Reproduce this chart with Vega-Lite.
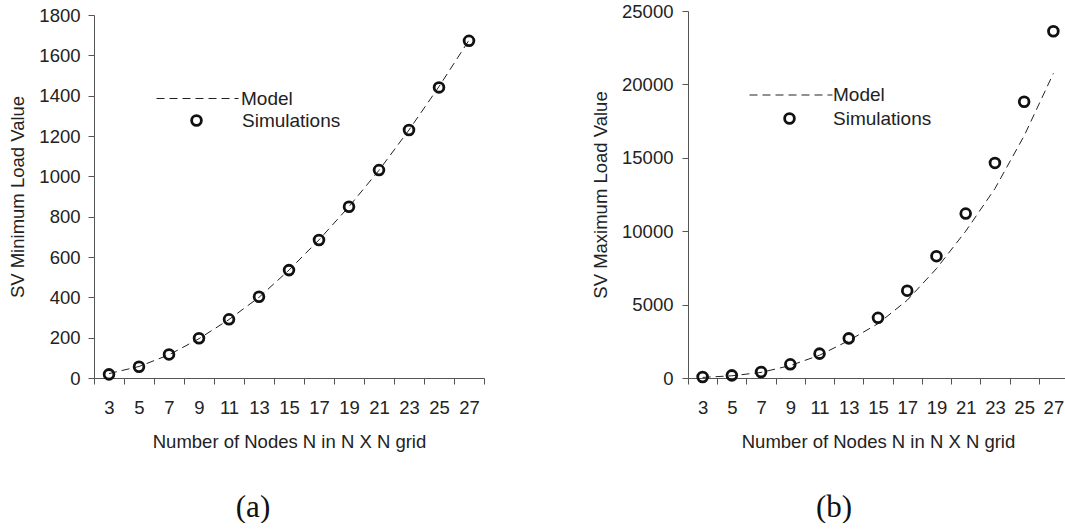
{
  "$schema": "https://vega.github.io/schema/vega-lite/v6.json",
  "background": "white",
  "padding": {"left": 8, "top": 2, "right": 0, "bottom": 0},
  "spacing": 106,
  "config": {
    "font": "Liberation Sans",
    "view": {"stroke": null},
    "axis": {
      "labelFont": "Liberation Sans",
      "labelFontSize": 18.5,
      "labelColor": "#222",
      "titleFont": "Liberation Sans",
      "titleFontSize": 18.5,
      "titleFontWeight": "normal",
      "titleColor": "#222",
      "domainColor": "#555",
      "tickColor": "#555",
      "grid": false,
      "tickSize": 6
    },
    "legend": {
      "labelFont": "Liberation Sans",
      "labelFontSize": 19,
      "labelColor": "#222",
      "padding": 0
    },
    "title": {
      "font": "Liberation Serif",
      "fontSize": 31,
      "fontWeight": "normal",
      "color": "#111"
    }
  },
  "resolve": {
    "scale": {"strokeDash": "independent", "shape": "independent"},
    "legend": {"strokeDash": "independent", "shape": "independent"}
  },
  "datasets": {
    "grid": [
      {"N": 3, "min_sim": 18, "min_model": 22, "max_sim": 70, "max_model": 40},
      {"N": 5, "min_sim": 56, "min_model": 57, "max_sim": 180, "max_model": 150},
      {"N": 7, "min_sim": 117, "min_model": 115, "max_sim": 410, "max_model": 380},
      {"N": 9, "min_sim": 197, "min_model": 195, "max_sim": 930, "max_model": 850},
      {"N": 11, "min_sim": 291, "min_model": 290, "max_sim": 1660, "max_model": 1550},
      {"N": 13, "min_sim": 403, "min_model": 400, "max_sim": 2700, "max_model": 2550},
      {"N": 15, "min_sim": 535, "min_model": 535, "max_sim": 4100, "max_model": 3700},
      {"N": 17, "min_sim": 684, "min_model": 685, "max_sim": 5950, "max_model": 5300},
      {"N": 19, "min_sim": 849, "min_model": 850, "max_sim": 8300, "max_model": 7450},
      {"N": 21, "min_sim": 1031, "min_model": 1030, "max_sim": 11200, "max_model": 10000},
      {"N": 23, "min_sim": 1230, "min_model": 1230, "max_sim": 14650, "max_model": 12900},
      {"N": 25, "min_sim": 1441, "min_model": 1445, "max_sim": 18820, "max_model": 16500},
      {"N": 27, "min_sim": 1672, "min_model": 1675, "max_sim": 23620, "max_model": 20750}
    ]
  },
  "hconcat": [
    {
      "width": 390,
      "height": 367,
      "data": {"name": "grid"},
      "title": {"text": "(a)", "orient": "bottom", "dx": -36, "offset": 42},
      "encoding": {
        "x": {
          "field": "N",
          "type": "ordinal",
          "scale": {"type": "band", "paddingInner": 0, "paddingOuter": 0},
          "axis": {
            "title": "Number of Nodes N in N X N grid",
            "tickBand": "extent",
            "labelAngle": 0,
            "labelPadding": 14,
            "titlePadding": 16
          }
        }
      },
      "layer": [
        {
          "mark": {"type": "line", "color": "#222", "strokeWidth": 1},
          "encoding": {
            "y": {
              "field": "min_model",
              "type": "quantitative",
              "scale": {"domain": [0, 1800], "range": [367, 4], "nice": false, "zero": true},
              "axis": {
                "title": "SV Minimum Load Value",
                "values": [0, 200, 400, 600, 800, 1000, 1200, 1400, 1600, 1800],
                "format": "d",
                "labelPadding": 8,
                "titlePadding": 11
              }
            },
            "strokeDash": {
              "datum": "Model",
              "type": "nominal",
              "scale": {"range": [[8, 5]]},
              "legend": {
                "orient": "none",
                "legendX": 62,
                "legendY": 46,
                "title": null,
                "symbolType": "stroke",
                "symbolSize": 6724,
                "symbolStrokeColor": "#222",
                "symbolStrokeWidth": 1,
                "labelOffset": 2
              }
            }
          }
        },
        {
          "mark": {"type": "point", "filled": false, "size": 95, "strokeWidth": 2.8, "color": "#111", "opacity": 1},
          "encoding": {
            "y": {"field": "min_sim", "type": "quantitative"},
            "shape": {
              "datum": "Simulations",
              "type": "nominal",
              "scale": {"range": ["circle"]},
              "legend": {
                "orient": "none",
                "legendX": 93,
                "legendY": 100,
                "title": null,
                "symbolSize": 95,
                "symbolStrokeWidth": 2.8,
                "symbolStrokeColor": "#111",
                "symbolFillColor": "transparent",
                "labelOffset": 36
              }
            }
          }
        }
      ]
    },
    {
      "width": 380,
      "height": 367,
      "data": {"name": "grid"},
      "title": {"text": "(b)", "orient": "bottom", "dx": -44, "offset": 42},
      "encoding": {
        "x": {
          "field": "N",
          "type": "ordinal",
          "scale": {"type": "band", "paddingInner": 0, "paddingOuter": 0},
          "axis": {
            "title": "Number of Nodes N in N X N grid",
            "tickBand": "extent",
            "labelAngle": 0,
            "labelPadding": 14,
            "titlePadding": 16
          }
        }
      },
      "layer": [
        {
          "mark": {"type": "line", "color": "#222", "strokeWidth": 1},
          "encoding": {
            "y": {
              "field": "max_model",
              "type": "quantitative",
              "scale": {"domain": [0, 25000], "nice": false, "zero": true},
              "axis": {
                "title": "SV Maximum Load Value",
                "values": [0, 5000, 10000, 15000, 20000, 25000],
                "format": "d",
                "labelPadding": 9,
                "titlePadding": 11
              }
            },
            "strokeDash": {
              "datum": "Model",
              "type": "nominal",
              "scale": {"range": [[8, 5]]},
              "legend": {
                "orient": "none",
                "legendX": 61,
                "legendY": 42,
                "title": null,
                "symbolType": "stroke",
                "symbolSize": 6889,
                "symbolStrokeColor": "#222",
                "symbolStrokeWidth": 1,
                "labelOffset": 0
              }
            }
          }
        },
        {
          "mark": {"type": "point", "filled": false, "size": 95, "strokeWidth": 2.8, "color": "#111", "opacity": 1},
          "encoding": {
            "y": {"field": "max_sim", "type": "quantitative"},
            "shape": {
              "datum": "Simulations",
              "type": "nominal",
              "scale": {"range": ["circle"]},
              "legend": {
                "orient": "none",
                "legendX": 92,
                "legendY": 98,
                "title": null,
                "symbolSize": 95,
                "symbolStrokeWidth": 2.8,
                "symbolStrokeColor": "#111",
                "symbolFillColor": "transparent",
                "labelOffset": 34
              }
            }
          }
        }
      ]
    }
  ]
}
